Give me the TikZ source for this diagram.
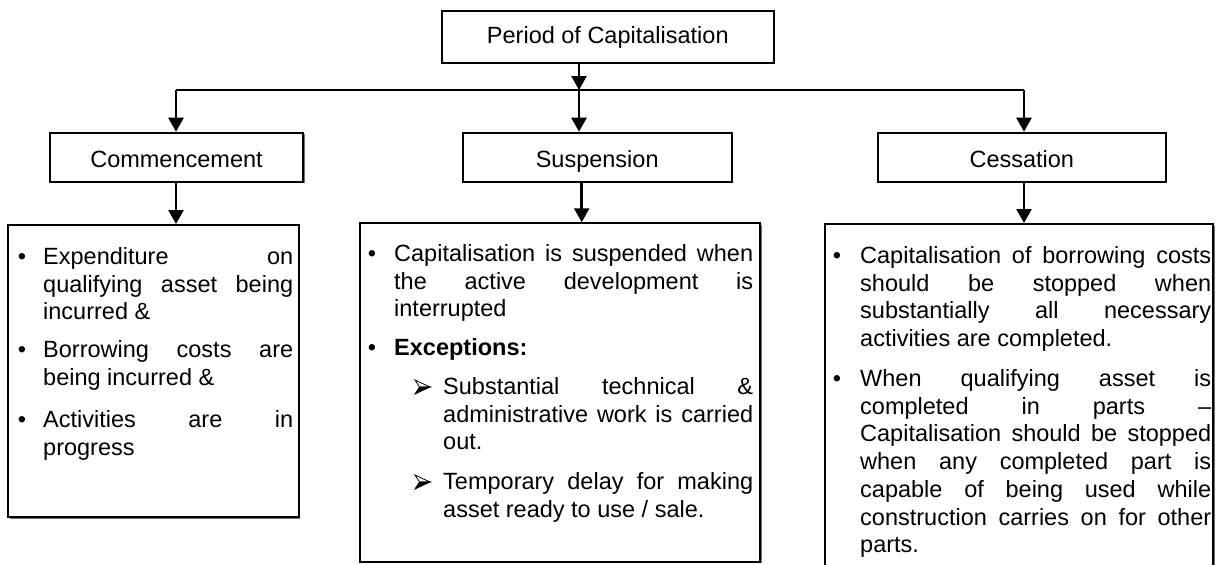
\documentclass[tikz,border=0pt]{standalone}
\usepackage{fontspec}
\setmainfont{Liberation Sans}
\usetikzlibrary{arrows.meta,shadows}
\newlength\colw
\newcommand\jline[1]{\hbox to \colw{\spaceskip=\fontdimen2\font plus 1fil\relax #1}}
\newcommand\lline[1]{\hbox to \colw{#1\hfil}}
\newcommand\lines[2]{\vtop{\setlength\colw{#1pt}#2}}
\begin{document}
\begin{tikzpicture}[x=1pt,y=-1pt,
  every node/.style={font=\fontsize{23.5}{27.7}\selectfont},
  box/.style={draw, line width=2pt, fill=white, inner sep=0pt,
    drop shadow={shadow xshift=1.5pt, shadow yshift=-1.5pt, opacity=1, fill=black!55}},
  head/.style={box, text height=22pt, text depth=2pt},
  para/.style={anchor=base west, inner sep=0pt},
  bul/.style={anchor=base, inner sep=0pt},
  conn/.style={line width=2.6pt},
  arr/.style={line width=2.6pt, -{Triangle[length=14pt,width=15pt]}},
  arrowbullet/.pic={
    \draw[line width=0.8pt, fill=white, line join=miter] (7.5,0) -- (-7.5,-7) -- (-3,0) -- cycle;
    \draw[line width=0.8pt, line join=miter] (7.5,0) -- (-7.5,7) -- (-3,0) -- cycle;
    \fill[black] (7.5,0) -- (-3,0) -- (-7.5,7) -- cycle;
  }]
\useasboundingbox (0,0) rectangle (1216,565);
\clip (0,0) rectangle (1216,565);

% heading boxes
\node[head, text height=16pt, minimum width=332pt, minimum height=52pt] (top) at (607.8,36.8) {Period of Capitalisation};
\node[head, minimum width=253pt, minimum height=49pt] (comm) at (176.5,157.2) {Commencement};
\node[head, minimum width=269pt, minimum height=49pt] (susp) at (597.2,157.2) {Suspension};
\node[head, minimum width=288pt, minimum height=49pt] (cess) at (1021.8,157.2) {Cessation};

% content boxes
\node[box, minimum width=290.5pt, minimum height=292pt] (cbox) at (153.25,371) {};
\node[box, minimum width=400.5pt, minimum height=338.5pt] (sbox) at (559.75,392.5) {};
\node[box, minimum width=388pt, minimum height=380pt] (xbox) at (1019,414) {};

% connectors
\coordinate (j) at (579,90);
\coordinate (jl) at (176,90);
\coordinate (jr) at (1024,90);
\coordinate (js) at (581.7,200);
\draw[conn] (jl) -- (jr);
\draw[arr] (top.south -| j) -- (j);
\draw[arr] (jl) -- (jl |- comm.north);
\draw[arr] (j) -- (j |- susp.north);
\draw[arr] (jr) -- (jr |- cess.north);
\draw[arr] (comm.south -| jl) -- (jl |- cbox.north);
\draw[arr] (susp.south -| js) -- (js |- sbox.north);
\draw[arr] (cess.south -| jr) -- (jr |- xbox.north);

% Commencement text
\node[bul] (cb1) at (22,264.5) {•};
\node[para] (ct1) at (43,264.5) {\lines{250}{\jline{Expenditure on}\jline{qualifying asset being}\lline{incurred \&}}};
\node[bul] (cb2) at (22,357.5) {•};
\node[para] (ct2) at (43,357.5) {\lines{250}{\jline{Borrowing costs are}\lline{being incurred \&}}};
\node[bul] (cb3) at (22,427.5) {•};
\node[para] (ct3) at (43,427.5) {\lines{250}{\jline{Activities are in}\lline{progress}}};

% Suspension text
\node[bul] (sb1) at (372,261.5) {•};
\node[para] (st1) at (394,261.5) {\lines{359}{\jline{Capitalisation is suspended when}\jline{the active development is}\lline{interrupted}}};
\node[bul] (sb2) at (372,355.5) {•};
\node[para] (st2) at (394,355.5) {\textbf{Exceptions:}};
\pic at (422.5,387) {arrowbullet};
\node[para] (st3) at (443,394.5) {\lines{310}{\jline{Substantial technical \&}\jline{administrative work is carried}\lline{out.}}};
\pic at (422.5,482) {arrowbullet};
\node[para] (st4) at (443,489.5) {\lines{310}{\jline{Temporary delay for making}\lline{asset ready to use / sale.}}};

% Cessation text
\node[bul] (xb1) at (837,263.5) {•};
\node[para] (xt1) at (860,263.5) {\lines{351}{\jline{Capitalisation of borrowing costs}\jline{should be stopped when}\jline{substantially all necessary}\lline{activities are completed.}}};
\node[bul] (xb2) at (837,386.5) {•};
\node[para] (xt2) at (860,386.5) {\lines{351}{\jline{When qualifying asset is}\jline{completed in parts –}\jline{Capitalisation should be stopped}\jline{when any completed part is}\jline{capable of being used while}\jline{construction carries on for other}\lline{parts.}}};
\end{tikzpicture}
\end{document}
